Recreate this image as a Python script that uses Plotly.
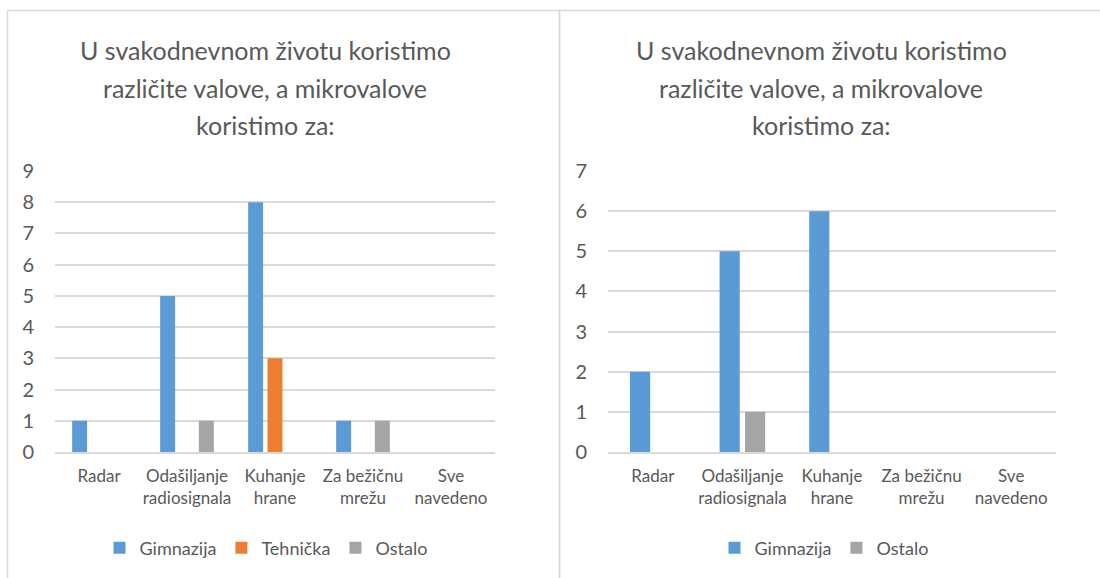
import plotly.graph_objects as go

categories = ["Radar", "Odašiljanje radiosignala", "Kuhanje hrane", "Za bežičnu mrežu", "Sve navedeno"]
tick_labels = ["Radar", "Odašiljanje<br>radiosignala", "Kuhanje<br>hrane", "Za bežičnu<br>mrežu", "Sve<br>navedeno"]
title_lines = ["U svakodnevnom životu koristimo", "različite valove, a mikrovalove", "koristimo za:"]

left_gimnazija = [1, 5, 8, 1, 0]
left_tehnicka = [0, 0, 3, 0, 0]
left_ostalo = [0, 1, 0, 1, 0]

right_gimnazija = [2, 5, 6, 0, 0]
right_ostalo = [0, 1, 0, 0, 0]

BLUE = "#5b9bd5"
ORANGE = "#ed7d31"
GRAY = "#a5a5a5"
TXT = "#595959"
GRID = "#d9d9d9"
FONT = "Lato"

W, H = 1100, 578
def px(x):
    return x / W
def py(y):
    return 1 - y / H

fig = go.Figure()

# Left chart bars (3 series)
lw = 0.17
lp = 0.22
for name, vals, col, c in [("Gimnazija", left_gimnazija, BLUE, -lp),
                           ("Tehnička", left_tehnicka, ORANGE, 0.0),
                           ("Ostalo", left_ostalo, GRAY, lp)]:
    fig.add_trace(go.Bar(x=categories, y=vals, name=name,
                         marker=dict(color=col, line=dict(width=0)),
                         width=lw, offset=c - lw / 2, xaxis="x", yaxis="y",
                         legend="legend"))

# Right chart bars (2 series)
rw = 0.225
rp = 0.142
for name, vals, col, c in [("Gimnazija", right_gimnazija, BLUE, -rp),
                           ("Ostalo", right_ostalo, GRAY, rp)]:
    fig.add_trace(go.Bar(x=categories, y=vals, name=name,
                         marker=dict(color=col, line=dict(width=0)),
                         width=rw, offset=c - rw / 2, xaxis="x2", yaxis="y2",
                         legend="legend2"))

ydom = [py(452), py(171)]
xcommon = dict(type="category", showgrid=False, showline=True, linecolor=GRID, linewidth=1.5,
               ticks="", tickfont=dict(family=FONT, size=17, color=TXT),
               tickmode="array", tickvals=categories, ticktext=tick_labels,
               ticklabelstandoff=8, fixedrange=True, automargin=False)
ycommon = dict(showgrid=True, gridcolor=GRID, gridwidth=1.5, zeroline=False, showline=False,
               ticks="", tickfont=dict(family=FONT, size=20, color=TXT), dtick=1,
               ticklabelstandoff=20, fixedrange=True, automargin=False)

fig.update_layout(
    width=W, height=H,
    margin=dict(l=0, r=0, t=0, b=0),
    paper_bgcolor="white", plot_bgcolor="white",
    barmode="overlay",
    showlegend=True,
    xaxis=dict(domain=[px(55), px(495)], anchor="y", range=[-0.5, 4.5], **xcommon),
    yaxis=dict(domain=ydom, anchor="x", range=[0, 9], **ycommon),
    xaxis2=dict(domain=[px(608), px(1056)], anchor="y2", range=[-0.5, 4.5], **xcommon),
    yaxis2=dict(domain=ydom, anchor="x2", range=[0, 7], **ycommon),
    legend=dict(orientation="h", x=px(266), xanchor="center", y=py(548), yanchor="middle",
                font=dict(family=FONT, size=18, color=TXT), bgcolor="rgba(0,0,0,0)",
                itemwidth=30, traceorder="normal"),
    legend2=dict(orientation="h", x=px(824), xanchor="center", y=py(548), yanchor="middle",
                 font=dict(family=FONT, size=18, color=TXT), bgcolor="rgba(0,0,0,0)",
                 itemwidth=30, traceorder="normal"),
)

# Chart borders
fig.add_shape(type="rect", xref="paper", yref="paper", x0=px(7.5), x1=px(559.5), y0=py(590), y1=py(10.5),
              line=dict(color=GRID, width=1.5), layer="below")
fig.add_shape(type="rect", xref="paper", yref="paper", x0=px(559.5), x1=px(1110), y0=py(590), y1=py(10.5),
              line=dict(color=GRID, width=1.5), layer="below")

# Titles
line_y = [50, 88, 125]
for cx in [265, 821]:
    for txt, yy in zip(title_lines, line_y):
        fig.add_annotation(text=txt, x=px(cx), y=py(yy), xref="paper", yref="paper",
                           xanchor="center", yanchor="middle", showarrow=False,
                           font=dict(family=FONT, size=25, color=TXT))

fig.write_html("out.html", config={"responsive": False, "displayModeBar": False},
               post_script="document.body.style.margin='0';document.body.style.overflow='hidden';")
